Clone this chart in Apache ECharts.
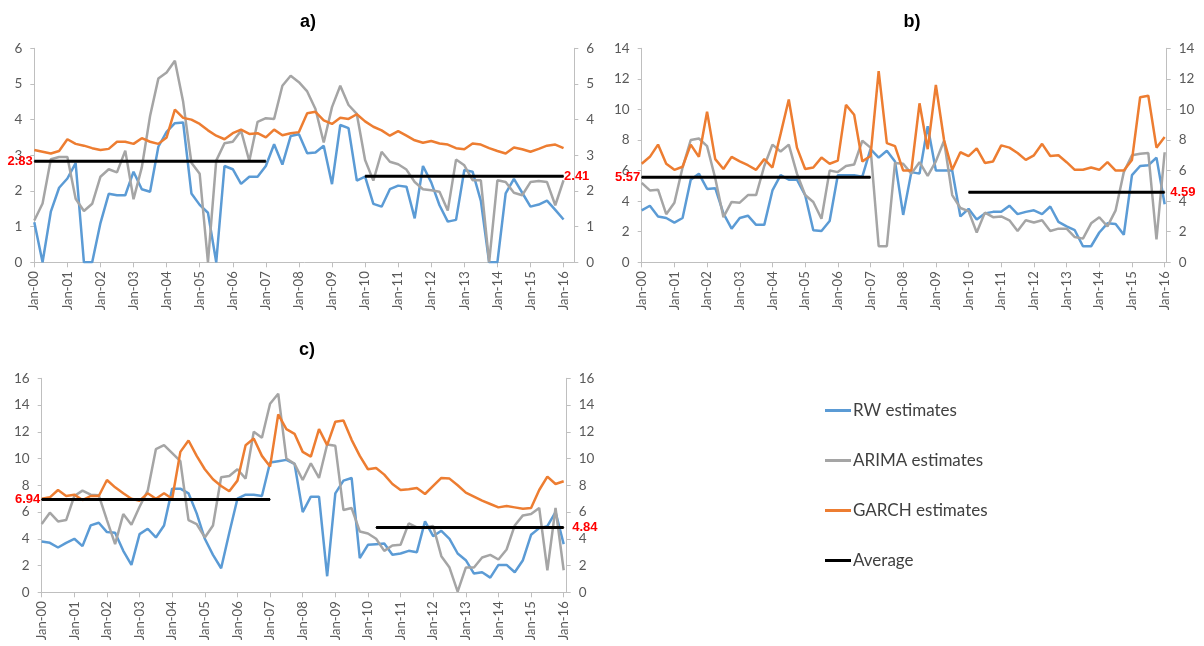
<!DOCTYPE html>
<html><head><meta charset="utf-8">
<script src="https://cdn.jsdelivr.net/npm/echarts@6/dist/echarts.min.js"></script>
<style>html,body{margin:0;padding:0;background:#fff}#c{width:1204px;height:646px}</style>
</head><body><div id="c"></div>
<script>
const tickLabels = ['Jan-00','Jan-01','Jan-02','Jan-03','Jan-04','Jan-05','Jan-06','Jan-07','Jan-08','Jan-09','Jan-10','Jan-11','Jan-12','Jan-13','Jan-14','Jan-15','Jan-16'];
const seriesNames = ['RW estimates','ARIMA estimates','GARCH estimates','Average'];

const rwA = [1.12,0,1.42,2.09,2.35,2.78,0,0,1.1,1.92,1.88,1.88,2.54,2.05,1.98,3.24,3.66,3.9,3.92,1.93,1.61,1.39,0,2.7,2.61,2.2,2.4,2.4,2.7,3.31,2.74,3.54,3.59,3.06,3.08,3.27,2.19,3.85,3.76,2.29,2.4,1.64,1.56,2.05,2.15,2.12,1.23,2.7,2.24,1.6,1.14,1.19,2.59,2.54,1.72,0,0,1.93,2.34,1.95,1.56,1.62,1.73,1.47,1.2];
const arimaA = [1.17,1.65,2.89,2.95,2.95,1.78,1.44,1.64,2.4,2.61,2.52,3.13,1.77,2.66,4.1,5.15,5.32,5.65,4.5,2.79,2.48,0,2.85,3.34,3.38,3.69,2.84,3.94,4.04,4.02,4.95,5.23,5.05,4.79,4.3,3.36,4.35,4.95,4.41,4.16,2.87,2.29,3.1,2.82,2.75,2.6,2.25,2.05,2.02,1.98,1.45,2.88,2.72,2.3,2.3,0,2.3,2.25,1.95,1.88,2.25,2.28,2.25,1.6,2.3];
const garchA = [3.15,3.1,3.05,3.12,3.45,3.32,3.27,3.2,3.15,3.18,3.38,3.38,3.32,3.48,3.38,3.32,3.5,4.28,4.05,4.0,3.88,3.7,3.55,3.45,3.62,3.72,3.6,3.62,3.5,3.72,3.56,3.62,3.65,4.18,4.22,3.98,3.88,4.05,4.02,4.15,3.95,3.8,3.7,3.55,3.68,3.55,3.42,3.35,3.4,3.33,3.3,3.2,3.17,3.33,3.3,3.2,3.12,3.05,3.22,3.17,3.1,3.18,3.27,3.3,3.2];

const rwB = [3.4,3.7,3.0,2.9,2.6,2.9,5.4,5.8,4.8,4.85,3.2,2.2,2.9,3.05,2.45,2.45,4.7,5.7,5.4,5.4,4.4,2.1,2.05,2.7,5.7,5.7,5.7,5.6,7.4,6.85,7.3,6.6,3.1,5.9,5.8,8.9,6.0,6.0,6.0,3.0,3.5,2.8,3.2,3.3,3.3,3.7,3.15,3.3,3.4,3.15,3.65,2.65,2.35,2.1,1.05,1.05,1.95,2.55,2.5,1.8,5.7,6.3,6.35,6.85,3.8];
const arimaB = [5.2,4.7,4.75,3.15,3.9,6.2,8.0,8.1,7.6,5.5,2.95,3.95,3.9,4.4,4.4,6.3,7.7,7.25,7.7,5.8,4.4,3.95,2.85,6.0,5.9,6.3,6.4,7.95,7.5,1.05,1.05,6.5,6.45,5.8,6.55,5.65,6.6,7.95,4.4,3.55,3.35,1.95,3.25,2.95,3.0,2.75,2.05,2.75,2.6,2.75,2.05,2.2,2.2,1.65,1.55,2.55,2.95,2.35,3.4,5.9,7.0,7.1,7.15,1.5,7.2];
const garchB = [6.45,6.9,7.7,6.45,6.05,6.25,7.7,6.9,9.85,6.75,6.1,6.9,6.6,6.35,6.05,6.75,6.2,8.4,10.65,7.5,6.1,6.2,6.85,6.45,6.65,10.3,9.65,6.6,6.95,12.5,7.8,7.6,6.0,6.0,10.4,7.4,11.6,8.0,6.05,7.2,6.95,7.45,6.5,6.6,7.65,7.5,7.15,6.7,7.0,7.75,6.95,7.0,6.55,6.05,6.05,6.2,6.05,6.55,6.0,6.0,6.7,10.8,10.9,7.5,8.2];

const rwC = [3.8,3.7,3.35,3.7,4.0,3.45,5.0,5.2,4.5,4.45,3.1,2.05,4.35,4.75,4.1,5.0,7.75,7.75,7.4,5.9,4.0,2.8,1.8,4.45,7.0,7.3,7.3,7.2,9.7,9.8,9.9,9.6,6.0,7.15,7.15,1.2,7.4,8.35,8.55,2.55,3.55,3.6,3.65,2.8,2.9,3.1,3.0,5.3,4.2,4.6,4.0,2.9,2.4,1.4,1.5,1.1,2.05,2.05,1.5,2.4,4.3,4.8,4.95,6.0,3.6];
const arimaC = [5.1,5.95,5.3,5.4,7.2,7.6,7.3,7.25,5.4,3.6,5.85,5.05,6.4,7.6,10.7,11.0,10.4,9.8,5.4,5.1,4.1,5.0,8.6,8.7,9.2,8.5,12.0,11.55,14.1,14.85,10.0,9.6,8.4,9.65,8.55,11.05,10.95,6.15,6.3,4.55,4.4,4.0,3.1,3.5,3.55,5.15,4.85,4.85,4.95,2.7,1.85,0.05,1.85,1.85,2.6,2.8,2.45,3.2,5.0,5.75,5.85,6.3,1.65,6.3,1.65];
const garchC = [7.0,7.1,7.65,7.2,7.3,6.9,7.2,7.2,8.4,7.85,7.4,7.0,6.85,7.4,7.0,7.4,7.0,10.5,11.35,10.2,9.2,8.45,7.95,7.55,8.35,11.0,11.5,10.2,9.4,13.3,12.2,11.85,10.5,10.15,12.2,11.0,12.75,12.85,11.4,10.2,9.2,9.3,8.8,8.1,7.65,7.7,7.8,7.35,7.95,8.55,8.5,8.0,7.45,7.15,6.85,6.6,6.35,6.45,6.35,6.25,6.3,7.65,8.65,8.1,8.3];

// averages: value, first quarter index, last quarter index
const avgA1 = [2.83, 0, 28], avgA2 = [2.41, 40, 64];
const avgB1 = [5.57, 0, 28], avgB2 = [4.59, 40, 64];
const avgC1 = [6.94, 0, 28], avgC2 = [4.84, 41, 64];

const panelTitles = ['a)','b)','c)'];
const yMax = [6, 14, 16], yStep = [1, 2, 2];

const FONT = 'Lato';
const BOLD = 'Liberation Sans';
const TXT = '#595959';
const AX = '#bfbfbf';
const COLORS = ['#5b9bd5','#a5a5a5','#ed7d31','#000000'];

const panels = [
  {rw: rwA, ar: arimaA, ga: garchA, av: [avgA1, avgA2], grid: {left: 34.3, top: 48.3, width: 540, height: 214}, xMax: 65.3, rightDist: 0},
  {rw: rwB, ar: arimaB, ga: garchB, av: [avgB1, avgB2], grid: {left: 641.7, top: 48.3, width: 525, height: 214}, xMax: 64.25, rightDist: 5},
  {rw: rwC, ar: arimaC, ga: garchC, av: [avgC1, avgC2], grid: {left: 41.7, top: 378.3, width: 525, height: 214}, xMax: 64.37, rightDist: 8}
];

const grids = [], xAxes = [], yAxes = [], series = [];
const toPts = arr => arr.map((v, i) => [i, v]);
panels.forEach((p, k) => {
  grids.push(p.grid);
  xAxes.push({
    type: 'value', gridIndex: k, min: 0, max: p.xMax, interval: 4,
    axisLine: {show: true, lineStyle: {color: AX, width: 1}},
    axisTick: {show: true, length: 5, lineStyle: {color: AX}},
    splitLine: {show: false},
    axisLabel: {rotate: 90, margin: 9, color: TXT, fontFamily: FONT, fontSize: 13,
      showMaxLabel: false,
      formatter: v => (v % 4 === 0 && tickLabels[v / 4]) ? tickLabels[v / 4] : ''}
  });
  [0, 1].forEach(side => {
    yAxes.push({
      type: 'value', gridIndex: k, min: 0, max: yMax[k], interval: yStep[k],
      position: side ? 'right' : 'left',
      axisLine: {show: true, lineStyle: {color: AX, width: 1}},
      axisTick: {show: true, length: 4, lineStyle: {color: AX}},
      splitLine: {show: false},
      axisLabel: {margin: 12, color: TXT, fontFamily: FONT, fontSize: 13.5}
    });
  });
  const yIdx = k * 2;
  [[p.rw, 0], [p.ar, 1], [p.ga, 2]].forEach(([arr, c]) => {
    series.push({
      type: 'line', name: seriesNames[c], xAxisIndex: k, yAxisIndex: yIdx,
      data: toPts(arr), symbol: 'none', color: COLORS[c],
      lineStyle: {width: 2.5, color: COLORS[c]}, z: 2 + c
    });
  });
  p.av.forEach((a, j) => {
    const lab = j === 0
      ? {show: true, position: 'left', distance: 1, formatter: a[0].toFixed(2)}
      : {show: true, position: 'right', distance: p.rightDist, formatter: a[0].toFixed(2)};
    const first = {value: [a[1], a[0]], label: j === 0 ? lab : {show: false}};
    const last = {value: [a[2], a[0]], label: j === 1 ? lab : {show: false}};
    series.push({
      type: 'line', name: seriesNames[3], xAxisIndex: k, yAxisIndex: yIdx,
      data: [first, last], symbol: 'rect', symbolSize: 1, showSymbol: true,
      color: COLORS[3], itemStyle: {color: COLORS[3]},
      lineStyle: {width: 3, color: COLORS[3]}, z: 10, clip: false,
      label: {color: '#ff0000', fontWeight: 'bold', fontFamily: BOLD, fontSize: 13},
      emphasis: {disabled: true}
    });
  });
});

const titleStyle = {fontFamily: BOLD, fontSize: 18, fontWeight: 'bold', color: '#000'};
const chart = echarts.init(document.getElementById('c'), null, {renderer: 'canvas'});
chart.setOption({
  backgroundColor: '#ffffff',
  animation: false,
  textStyle: {fontFamily: FONT},
  title: [
    {text: panelTitles[0], left: 303, top: 8, textAlign: 'center', textStyle: titleStyle},
    {text: panelTitles[1], left: 907, top: 8, textAlign: 'center', textStyle: titleStyle},
    {text: panelTitles[2], left: 302, top: 336, textAlign: 'center', textStyle: titleStyle}
  ],
  legend: {
    orient: 'vertical', left: 820, top: 397, itemGap: 33,
    itemWidth: 26, itemHeight: 3, icon: 'rect', selectedMode: false,
    data: seriesNames.map((n, i) => ({name: n, itemStyle: {color: COLORS[i]}})),
    textStyle: {fontFamily: FONT, fontSize: 17, color: '#404040', padding: [0, 0, 0, -3]}
  },
  grid: grids, xAxis: xAxes, yAxis: yAxes, series: series
});
</script></body></html>
